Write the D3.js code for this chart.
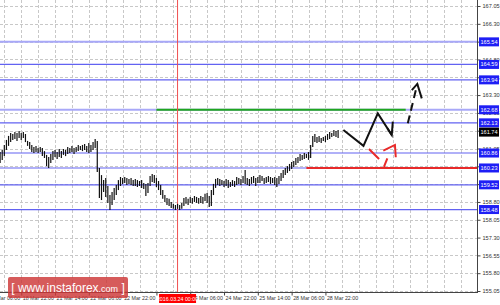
<!DOCTYPE html>
<html lang="en">
<head>
<meta charset="UTF-8">
<title>Price chart with levels</title>
<script src="https://cdn.jsdelivr.net/npm/d3@7/dist/d3.min.js"></script>
<style>
body { margin: 0; background: #fff; }
text { font-family: "Liberation Sans", Arial, sans-serif; }
</style>
</head>
<body>
<svg width="500" height="305"></svg>
<script>
// hourly bars, index 0 = leftmost bar
const barHighs = [160.90,160.99,161.20,161.41,161.58,161.70,161.66,161.74,161.70,161.79,
  161.70,161.74,161.66,161.37,161.32,161.20,161.11,161.16,161.07,161.11,
  161.07,160.94,160.78,160.69,160.82,160.94,160.99,160.90,161.03,160.94,
  161.03,160.99,161.11,161.07,161.16,161.07,161.11,161.20,161.16,161.20,
  161.24,161.16,161.28,161.20,161.32,161.45,161.37,160.23,159.93,159.72,
  159.81,159.47,159.09,159.22,159.39,159.51,159.72,159.85,159.81,159.85,
  159.81,159.77,159.81,159.72,159.77,159.72,159.68,159.72,159.60,159.56,
  159.60,159.89,159.98,159.93,159.81,159.68,159.51,159.30,159.09,158.97,
  158.93,158.80,158.72,158.67,158.72,158.67,158.76,158.97,159.01,158.93,
  159.01,158.97,159.05,159.01,158.97,159.05,159.01,159.14,159.18,159.05,
  159.30,159.56,159.77,159.81,159.77,159.72,159.68,159.77,159.72,159.64,
  159.72,159.68,159.85,159.81,159.77,159.89,160.14,159.81,159.77,159.85,
  159.89,159.81,159.85,159.93,159.89,159.81,159.85,159.89,159.85,159.81,
  159.85,159.81,159.89,160.02,160.14,160.23,160.31,160.40,160.48,160.52,
  160.65,160.69,160.82,160.78,160.86,160.82,160.90,161.20,161.58,161.66,
  161.53,161.58,161.49,161.53,161.58,161.66,161.74,161.70,161.83,161.79,
  161.83];
const barLows = [160.44,160.57,160.73,160.99,161.16,161.32,161.41,161.45,161.37,161.49,
  161.41,161.49,161.32,161.16,161.03,160.90,160.86,160.90,160.86,160.90,
  160.73,160.65,160.31,160.23,160.44,160.57,160.69,160.61,160.69,160.65,
  160.78,160.73,160.82,160.86,160.90,160.82,160.90,160.94,160.99,160.94,
  160.99,160.90,160.86,160.90,160.99,161.07,160.06,158.97,158.88,159.22,
  159.01,158.76,158.46,158.67,158.88,159.09,159.30,159.47,159.56,159.60,
  159.51,159.56,159.51,159.47,159.47,159.43,159.47,159.39,159.35,159.05,
  159.18,159.47,159.64,159.60,159.43,159.30,159.09,158.93,158.80,158.67,
  158.63,158.55,158.51,158.46,158.51,158.46,158.51,158.63,158.72,158.67,
  158.76,158.72,158.80,158.76,158.72,158.76,158.72,158.84,158.76,158.59,
  158.63,159.09,159.39,159.51,159.47,159.51,159.43,159.47,159.39,159.43,
  159.47,159.43,159.51,159.56,159.51,159.60,159.56,159.51,159.47,159.56,
  159.60,159.47,159.60,159.60,159.68,159.56,159.60,159.64,159.56,159.60,
  159.51,159.43,159.56,159.68,159.81,159.93,160.02,160.10,160.19,160.27,
  160.36,160.44,160.52,160.57,160.61,160.65,160.57,160.65,161.11,161.32,
  161.28,161.32,161.28,161.37,161.32,161.41,161.45,161.53,161.58,161.53,
  161.49];

const priceTicks = [167.05,166.30,165.55,164.80,164.05,163.30,162.55,161.80,161.05,
  160.30,159.55,158.80,158.05,157.30,156.55,155.80,155.05];
// tick labels that sit fully under a level box in the reference
const coveredTicks = [165.55,161.80,160.30,159.55];
const timeLabelBars = [-6,10,26,42,58,74,90,106,122,138,154];
const timeLabels = ["18 Mar 06:00","18 Mar 22:00","21 Mar 14:00","22 Mar 06:00","22 Mar 22:00",
  "","24 Mar 06:00","24 Mar 22:00","25 Mar 14:00","28 Mar 06:00","28 Mar 22:00"];

const levelPrices = [165.54,164.59,163.94,162.68,162.13,160.86,160.23,159.52,158.48];
const lightLevels = [165.54,162.68];
const lastPrice = 161.74;
const markerBar = 84;
const markerLabel = "2016.03.24 00:00";
const greenLevel = {price: 162.68, from: 74, to: 192};
const redLevel = {price: 160.23, from: 145, to: 226};

// forecast sketches, points as [bar, price]
const blackPath = [[162.5,161.83],[172.0,161.16],[178.8,162.53],[185.4,161.62]];
const blackHead = [[183.3,161.90],[185.4,161.62],[185.9,162.18]];
const dashedPath = [[193.0,162.11],[197.5,163.77]];
const dashedHead = [[194.9,163.51],[197.5,163.77],[199.6,163.16]];
const redDash1 = [[174.6,161.03],[179.4,160.61]];
const redDash2 = [[181.7,160.28],[183.3,160.63]];
const redHead = [[181.4,160.96],[186.9,161.20],[187.3,160.68]];

const svg = d3.select("svg");
const plotW = 478, plotH = 293;

const x = d3.scaleLinear().domain([0, 225.75]).range([0.1, 477]);
const y = d3.scaleLinear().domain([155.05, 167.05]).range([291, 6]);

const plot = svg.append("g");
plot.append("clipPath").attr("id", "clip")
  .append("rect").attr("width", plotW).attr("height", plotH);
const inner = plot.append("g").attr("clip-path", "url(#clip)");

// grid
inner.selectAll(".vgrid").data(d3.range(2, 226, 8)).join("line")
  .attr("x1", d => Math.round(x(d)) + 0.5).attr("x2", d => Math.round(x(d)) + 0.5)
  .attr("y1", 0).attr("y2", plotH)
  .attr("stroke", "#c8c8c8").attr("stroke-dasharray", "3,2");
inner.selectAll(".hgrid").data(priceTicks).join("line")
  .attr("x1", 0).attr("x2", plotW)
  .attr("y1", d => Math.round(y(d)) + 0.5).attr("y2", d => Math.round(y(d)) + 0.5)
  .attr("stroke", "#c8c8c8").attr("stroke-dasharray", "3,2");

// level lines
inner.selectAll(".lvl").data(levelPrices).join("line")
  .attr("x1", 0).attr("x2", plotW)
  .attr("y1", d => y(d)).attr("y2", d => y(d))
  .attr("stroke", d => lightLevels.includes(d) ? "#a8a8f8" : "#6262f2")
  .attr("stroke-width", d => lightLevels.includes(d) ? 2 : 1.2);

inner.append("line")
  .attr("x1", x(greenLevel.from)).attr("x2", x(greenLevel.to))
  .attr("y1", y(greenLevel.price)).attr("y2", y(greenLevel.price))
  .attr("stroke", "#1fa51f").attr("stroke-width", 2);
inner.append("line")
  .attr("x1", x(redLevel.from)).attr("x2", x(redLevel.to))
  .attr("y1", y(redLevel.price)).attr("y2", y(redLevel.price))
  .attr("stroke", "#e82a2a").attr("stroke-width", 2);

// vertical date marker
inner.append("line")
  .attr("x1", x(markerBar)).attr("x2", x(markerBar))
  .attr("y1", 0).attr("y2", plotH)
  .attr("stroke", "#f05050").attr("stroke-width", 1);

// bars
inner.selectAll(".bar").data(barHighs).join("line")
  .attr("x1", (d, i) => x(i)).attr("x2", (d, i) => x(i))
  .attr("y1", d => y(d)).attr("y2", (d, i) => y(barLows[i]))
  .attr("stroke", "#111").attr("stroke-width", 1.2);

// sketches
const line = d3.line().x(d => x(d[0])).y(d => y(d[1]));
function sketch(pts, color, dash) {
  inner.append("path").attr("d", line(pts))
    .attr("fill", "none").attr("stroke", color).attr("stroke-width", 2)
    .attr("stroke-linejoin", "miter")
    .attr("stroke-dasharray", dash || null);
}
sketch(blackPath, "#111");
sketch(blackHead, "#111");
sketch(dashedPath, "#111", "8,5");
sketch(dashedHead, "#111");
sketch(redDash1, "#e82a2a");
sketch(redDash2, "#e82a2a");
sketch(redHead, "#e82a2a");

// frame
svg.append("line").attr("x1", plotW - 0.5).attr("x2", plotW - 0.5)
  .attr("y1", 0).attr("y2", plotH).attr("stroke", "#444");
svg.append("line").attr("x1", 0).attr("x2", plotW)
  .attr("y1", plotH - 0.5).attr("y2", plotH - 0.5).attr("stroke", "#444");

// right price axis
const yAxis = svg.append("g")
  .attr("transform", "translate(" + (plotW - 0.5) + ",0)")
  .call(d3.axisRight(y).tickValues(priceTicks).tickSize(3).tickPadding(2)
    .tickFormat(d => coveredTicks.includes(d) ? "" : d3.format(".2f")(d)));
yAxis.select(".domain").remove();
yAxis.selectAll("line").attr("stroke", "#444");
yAxis.selectAll("text").attr("font-size", 5.6).attr("fill", "#333")
  .attr("font-family", "Liberation Sans, Arial, sans-serif");

// bottom time axis
const xAxis = svg.append("g")
  .attr("transform", "translate(0," + (plotH - 0.5) + ")")
  .call(d3.axisBottom(x).tickValues(timeLabelBars).tickSize(3).tickPadding(1)
    .tickFormat((d, i) => timeLabels[i]));
xAxis.select(".domain").remove();
xAxis.selectAll("line").attr("stroke", "#444");
xAxis.selectAll("text").attr("font-size", 5.3).attr("fill", "#333")
  .attr("text-anchor", "start").attr("dx", 1)
  .attr("font-family", "Liberation Sans, Arial, sans-serif");

// level price boxes
function priceBox(p, fill) {
  const g = svg.append("g").attr("transform", "translate(479," + y(p) + ")");
  g.append("rect").attr("x", 0).attr("y", -4.5).attr("width", 20).attr("height", 9)
    .attr("fill", fill);
  g.append("text").attr("x", 10).attr("y", 2).attr("text-anchor", "middle")
    .attr("font-size", 5.6).attr("fill", "#fff").text(d3.format(".2f")(p));
}
levelPrices.forEach(p => priceBox(p, "#1e1ef5"));
priceBox(lastPrice, "#000");

// date marker box
const mg = svg.append("g").attr("transform", "translate(" + x(markerBar) + "," + plotH + ")");
mg.append("rect").attr("x", -18.5).attr("y", 1).attr("width", 37).attr("height", 9)
  .attr("fill", "#f00");
mg.append("text").attr("x", 0).attr("y", 7.5).attr("text-anchor", "middle")
  .attr("font-size", 5.3).attr("fill", "#fff").text(markerLabel);

// watermark
const wm = svg.append("g");
wm.append("rect").attr("x", 8).attr("y", 277).attr("width", 120).attr("height", 21)
  .attr("rx", 2).attr("fill", "rgba(205,55,55,0.82)");
const wt = wm.append("text").attr("x", 68).attr("y", 292).attr("text-anchor", "middle")
  .attr("fill", "#fff").attr("font-family", "Open Sans, Liberation Sans, sans-serif");
wt.append("tspan").attr("font-size", 12).text("[ www.instaforex");
wt.append("tspan").attr("font-size", 9).text(".com");
wt.append("tspan").attr("font-size", 12).text(" ]");
</script>
</body>
</html>
